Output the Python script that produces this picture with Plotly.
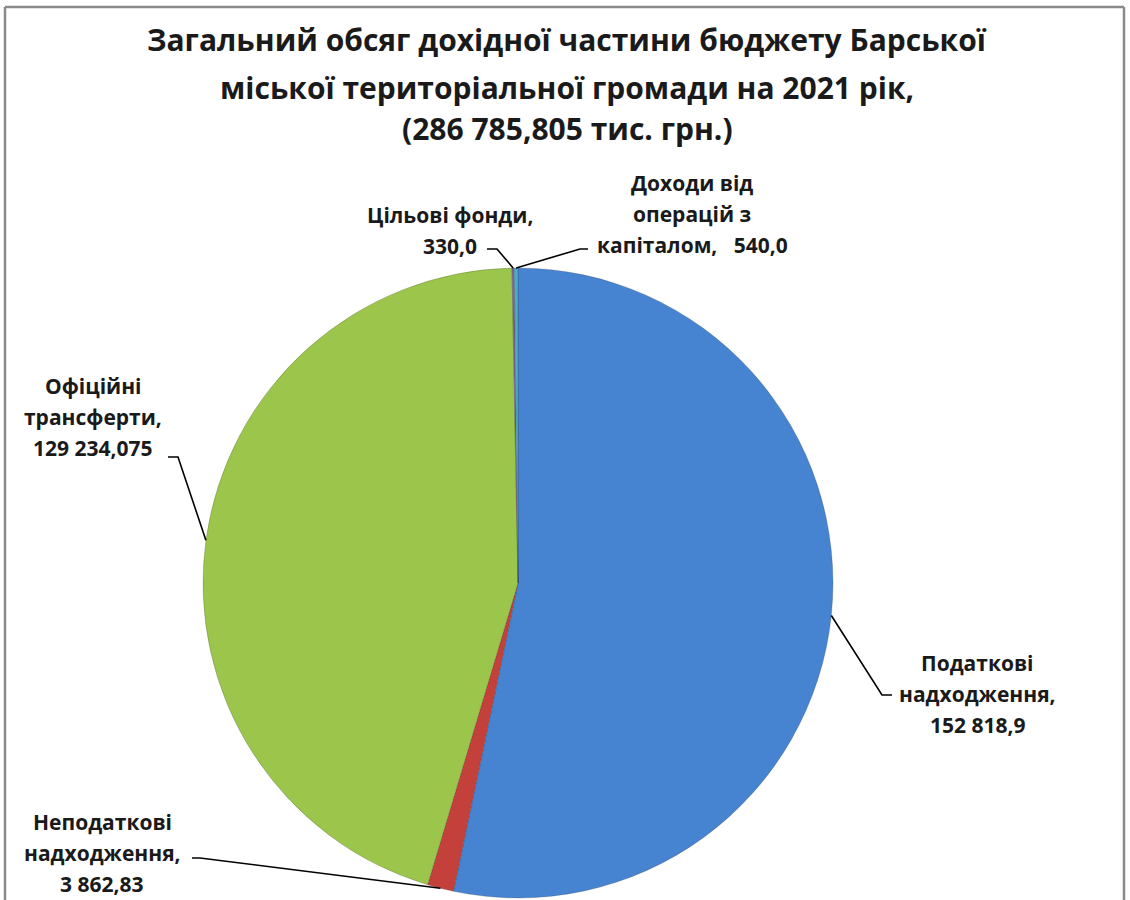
import math
import plotly.graph_objects as go

# ---- data ----
categories = [
    "Податкові надходження",
    "Неподаткові надходження",
    "Офіційні трансферти",
    "Цільові фонди",
    "Доходи від операцій з капіталом",
]
values = [152818.9, 3862.83, 129234.075, 330.0, 540.0]
label_lines = [
    ["Податкові", "надходження,", "152 818,9"],
    ["Неподаткові", "надходження,", "3 862,83"],
    ["Офіційні", "трансферти,", "129 234,075"],
    ["Цільові фонди,", "330,0"],
    ["Доходи від", "операцій з", "капіталом,   540,0"],
]
title_lines = [
    "Загальний обсяг дохідної частини бюджету Барської",
    "міської територіальної громади на 2021 рік,",
    "(286 785,805 тис. грн.)",
]
colors = ["#4683D0", "#C4413B", "#9CC54B", "#7F62A2", "#4BACC6"]

W, H = 1130, 900
CX, CY, R = 518, 583, 315  # pie centre / radius in px


def px(x):
    return x / W


def py(y):
    return 1 - y / H


fig = go.Figure()
fig.add_trace(go.Pie(
    labels=categories,
    values=values,
    sort=False,
    direction="clockwise",
    rotation=0,
    textinfo="none",
    hoverinfo="label+value",
    marker=dict(colors=colors, line=dict(color="rgba(40,40,40,0.35)", width=0.6)),
    domain=dict(x=[px(CX - R), px(CX + R)], y=[py(CY + R), py(CY - R)]),
    showlegend=False,
))

# label placement (px): centre x, first-line centre y, elbow (x,y), stub end x
label_layout = [
    dict(x=978, y=663, elbow=(882, 695), stub=892),
    dict(x=102, y=822, elbow=(200, 858), stub=192),
    dict(x=93, y=386, elbow=(178, 457), stub=168),
    dict(x=450, y=215, elbow=(497, 249), stub=487),
    dict(x=692, y=183, elbow=(580, 249), stub=588),
]
LINE_H = 31

total = sum(values)
cum = 0.0
shapes = []
annotations = []
for i, v in enumerate(values):
    mid = (cum + v / 2) / total * 2 * math.pi
    cum += v
    ax_ = CX + R * math.sin(mid)
    ay_ = CY - R * math.cos(mid)
    L = label_layout[i]
    ex, ey = L["elbow"]
    path = f"M {px(ax_)},{py(ay_)} L {px(ex)},{py(ey)} L {px(L['stub'])},{py(ey)}"
    shapes.append(dict(type="path", xref="paper", yref="paper", path=path,
                       line=dict(color="black", width=1.6)))
    for k, line in enumerate(label_lines[i]):
        annotations.append(dict(
            x=px(L["x"]), y=py(L["y"] + k * LINE_H), xref="paper", yref="paper",
            text="<b>" + line + "</b>", showarrow=False,
            xanchor="center", yanchor="middle", align="center",
            font=dict(family="Open Sans", size=21, color="#1a1a1a"),
        ))

title_y = [40, 87, 128]
for t, yy in zip(title_lines, title_y):
    annotations.append(dict(
        x=px(567), y=py(yy), xref="paper", yref="paper",
        text="<b>" + t + "</b>", showarrow=False,
        xanchor="center", yanchor="middle",
        font=dict(family="Open Sans", size=30, color="#1a1a1a"),
    ))

# chart frame
frame = dict(color="#8a8a8a", width=2.5)
shapes.append(dict(type="line", xref="paper", yref="paper",
                   x0=px(5), x1=px(1124), y0=py(7), y1=py(7), line=frame))
shapes.append(dict(type="line", xref="paper", yref="paper",
                   x0=px(5), x1=px(5), y0=py(7), y1=py(905), line=frame))
shapes.append(dict(type="line", xref="paper", yref="paper",
                   x0=px(1124), x1=px(1124), y0=py(7), y1=py(905), line=frame))

fig.update_layout(
    width=W, height=H, autosize=False,
    margin=dict(l=0, r=0, t=0, b=0),
    paper_bgcolor="white", plot_bgcolor="white",
    shapes=shapes, annotations=annotations,
)

fig.write_html("out.html", config={"displayModeBar": False},
               post_script="document.body.style.margin='0';")
